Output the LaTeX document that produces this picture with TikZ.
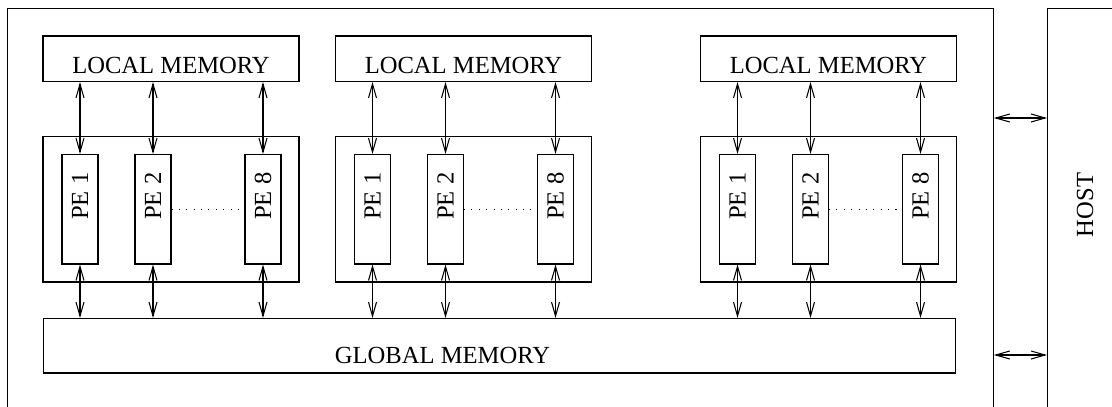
\documentclass[tikz,border=0pt]{standalone}
\usepackage{fontspec}
\setmainfont{Liberation Serif}
\usetikzlibrary{arrows.meta}

\begin{document}
\begin{tikzpicture}[x=0.02cm, y=-0.02cm, line width=0.6pt,
    >={Straight Barb[length=0.28cm, width=0.16cm]},
    font=\fontsize{14}{16}\selectfont,
    box/.style={draw, rectangle, inner sep=0pt},
    membox/.style={box, minimum width=5.12cm, minimum height=0.91cm},
    grpbox/.style={box, minimum width=5.12cm, minimum height=2.91cm},
    pebox/.style={box, minimum width=0.72cm, minimum height=2.19cm}]
    \useasboundingbox (0,0) rectangle (1112,406);
    \clip (0,0) rectangle (1112,406);

    % Khung bo mach va may chu (bi cat o canh duoi)
    \node[box, minimum width=19.72cm, minimum height=9cm, anchor=north west] (board) at (7,8) {};
    \node[box, minimum width=3cm, minimum height=9cm, anchor=north west] (host) at (1047,8) {};
    \node[rotate=90] (hostname) at (1085,205) {HOST};

    % Bo nho chung
    \node[box, minimum width=18.26cm, minimum height=1.09cm,
        label={[xshift=-1.14cm, yshift=-0.19cm]center:GLOBAL MEMORY}] (glob) at (499.5,345.75) {};

    % Ba cum PE, moi cum co bo nho rieng
    \foreach \g/\gx in {1/43, 2/335.5, 3/700.5} {
        \node[membox, label={[yshift=-0.14cm]center:LOCAL MEMORY}] (lm\g) at (\gx+128,58.75) {};
        \node[grpbox] (grp\g) at (\gx+128,209.25) {};
        \foreach \p/\px in {1/37, 2/110, 8/220} {
            \node[pebox, label={[rotate=90, xshift=0.26cm]center:PE \p}] (pe\g\p) at (\gx+\px,209.25) {};
            \draw[<->] (lm\g.south -| pe\g\p) -- (pe\g\p.north);
            \draw[<->] (pe\g\p.south) -- (pe\g\p |- glob.north);
        }
        \draw[dash pattern=on 0.6pt off 3.6pt] (pe\g2.east) -- (pe\g8.west);
    }

    % Ket noi voi may chu
    \draw[<->] (board.east |- 0,118) -- (host.west |- 0,118);
    \draw[<->] (board.east |- 0,355) -- (host.west |- 0,355);
\end{tikzpicture}
\end{document}
